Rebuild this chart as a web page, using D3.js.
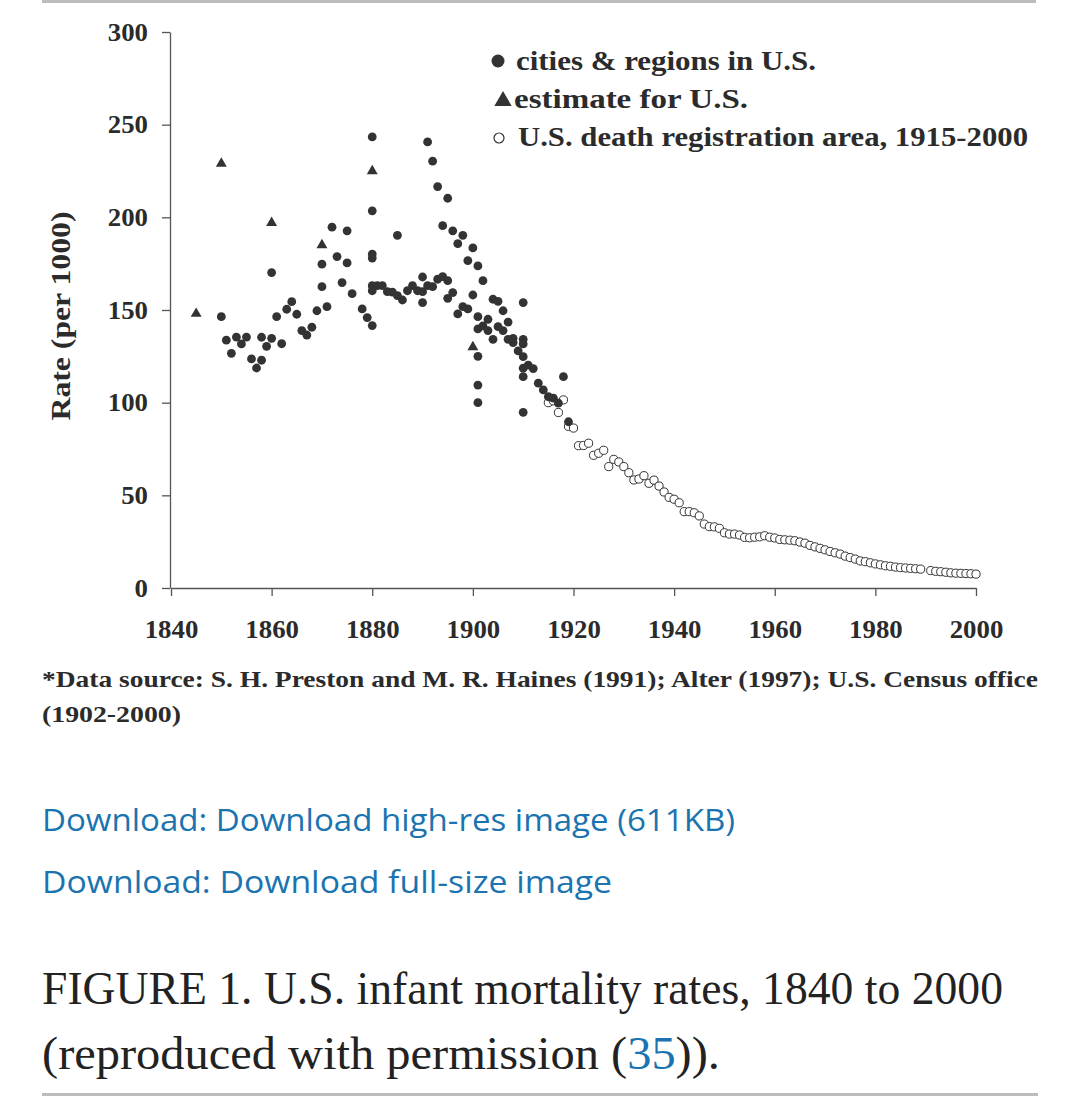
<!DOCTYPE html>
<html>
<head>
<meta charset="utf-8">
<script src="https://cdn.jsdelivr.net/npm/d3@7"></script>
<style>
  body { margin: 0; background: #fff; }
  svg { display: block; }
</style>
</head>
<body>
<svg width="1075" height="1103"></svg>
<script>
// values: [year, rate per 1000]
const cities = [
  [1850, 146.4], [1851, 133.7], [1852, 126.6], [1853, 135.4], [1854, 131.7], [1855, 135.4],
  [1856, 123.6], [1857, 118.7], [1858, 122.9], [1858, 135.3], [1859, 130.4], [1860, 134.7],
  [1860, 170.2], [1861, 146.4], [1862, 131.8], [1863, 150.4], [1864, 154.5], [1865, 147.7],
  [1866, 138.9], [1867, 136.5], [1868, 140.7], [1869, 149.6], [1870, 162.6], [1870, 174.7],
  [1871, 151.8], [1872, 194.7], [1873, 178.8], [1874, 164.8], [1875, 192.7], [1875, 175.4],
  [1876, 158.8], [1878, 150.6], [1879, 145.9], [1880, 141.6], [1880, 243.4], [1880, 203.5],
  [1880, 180.2], [1880, 178.0], [1880, 163.1], [1880, 160.4], [1881, 163.1], [1882, 163.1],
  [1883, 159.9], [1884, 159.6], [1885, 157.8], [1885, 190.3], [1886, 155.4], [1887, 160.4],
  [1888, 163.1], [1889, 160.4], [1890, 159.9], [1890, 167.8], [1890, 154.0], [1891, 163.1],
  [1891, 240.7], [1892, 162.6], [1892, 230.3], [1893, 166.6], [1893, 216.6], [1894, 168.0],
  [1894, 195.5], [1895, 165.8], [1895, 210.3], [1895, 156.3], [1896, 159.4], [1896, 192.7],
  [1897, 185.8], [1897, 147.9], [1898, 151.8], [1898, 190.3], [1899, 150.6], [1899, 176.6],
  [1900, 183.5], [1900, 158.1], [1901, 173.8], [1901, 146.4], [1901, 139.8], [1901, 125.0],
  [1901, 109.5], [1901, 100.0], [1902, 165.8], [1902, 141.4], [1903, 145.0], [1903, 138.9],
  [1904, 155.8], [1904, 134.2], [1905, 154.7], [1905, 141.0], [1906, 149.6], [1906, 138.9],
  [1907, 143.5], [1907, 134.2], [1908, 134.7], [1908, 132.4], [1909, 127.9], [1910, 154.0],
  [1910, 134.2], [1910, 131.7], [1910, 124.8], [1910, 118.6], [1910, 114.0], [1910, 94.8],
  [1911, 120.3], [1912, 118.4], [1913, 110.5], [1914, 106.9], [1915, 103.2], [1916, 102.4],
  [1917, 99.7], [1918, 114.0], [1919, 89.7]
];

const estimates = [
  [1845, 148], [1850, 229], [1860, 197], [1870, 185], [1880, 225], [1900, 130]
];

const registrationYears = [
  1915, 1916, 1917, 1918, 1919, 1920, 1921, 1922, 1923, 1924, 1925, 1926, 1927, 1928, 1929,
  1930, 1931, 1932, 1933, 1934, 1935, 1936, 1937, 1938, 1939, 1940, 1941, 1942, 1943, 1944,
  1945, 1946, 1947, 1948, 1949, 1950, 1951, 1952, 1953, 1954, 1955, 1956, 1957, 1958, 1959,
  1960, 1961, 1962, 1963, 1964, 1965, 1966, 1967, 1968, 1969, 1970, 1971, 1972, 1973, 1974,
  1975, 1976, 1977, 1978, 1979, 1980, 1981, 1982, 1983, 1984, 1985, 1986, 1987, 1988, 1989,
  1991, 1992, 1993, 1994, 1995, 1996, 1997, 1998, 1999, 2000
];
const registrationRates = [
  100.0, 101.0, 94.7, 101.5, 87.2, 86.3, 76.8, 76.9, 78.1, 71.6, 72.7, 74.3, 65.5, 69.4, 68.0,
  65.5, 62.2, 58.3, 58.8, 60.6, 56.5, 58.2, 55.0, 51.8, 48.9, 47.9, 46.0, 41.2, 41.2, 40.6,
  38.9, 34.5, 33.1, 33.0, 32.2, 29.8, 29.1, 29.1, 28.6, 27.3, 27.1, 27.4, 27.6, 28.2, 27.4,
  27.0, 26.2, 26.0, 25.8, 25.5, 24.8, 24.2, 23.0, 22.2, 21.4, 20.6, 19.7, 19.0, 18.3, 17.2,
  16.4, 15.6, 14.6, 14.2, 13.6, 13.0, 12.5, 12.0, 11.7, 11.3, 11.0, 10.8, 10.6, 10.4, 10.2,
  9.4, 9.0, 8.8, 8.5, 8.2, 8.0, 7.9, 7.8, 7.7, 7.5
];

const xTicks = [1840, 1860, 1880, 1900, 1920, 1940, 1960, 1980, 2000];
const yTicks = [0, 50, 100, 150, 200, 250, 300];
const legendLabels = ["cities & regions in U.S.", "estimate for U.S.", "U.S. death registration area, 1915-2000"];

const ink = "#2b2b2b";
const serif = "'Liberation Serif', 'Times New Roman', serif";
const svg = d3.select("svg");

const x = d3.scaleLinear().domain([1840, 2000]).range([171, 976]);
const y = d3.scaleLinear().domain([0, 300]).range([588, 32]);

// page rules above and below the figure
svg.append("rect").attr("x", 42).attr("y", 0).attr("width", 994).attr("height", 3).attr("fill", "#bdbdbd");
svg.append("rect").attr("x", 42).attr("y", 1093).attr("width", 996).attr("height", 3).attr("fill", "#bdbdbd");

// axes
const yAxis = svg.append("g")
  .attr("transform", "translate(170,0)")
  .call(d3.axisLeft(y).tickValues(yTicks).tickSize(8).tickSizeOuter(0).tickPadding(14));
const xAxis = svg.append("g")
  .attr("transform", "translate(0,588)")
  .call(d3.axisBottom(x).tickValues(xTicks).tickSize(8).tickSizeOuter(0).tickPadding(24).tickFormat(d3.format("d")));

[xAxis, yAxis].forEach(g => {
  g.selectAll("path, line").attr("stroke", "#555").attr("stroke-width", 1.3);
  g.selectAll("text")
    .attr("fill", ink)
    .style("font-family", serif)
    .style("font-weight", "bold")
    .style("font-size", "25px")
    .attr("textLength", function () { return this.textContent.length * 13.4; })
    .attr("lengthAdjust", "spacingAndGlyphs");
});

// y title
svg.append("text")
  .attr("transform", "translate(70,316) rotate(-90)")
  .attr("text-anchor", "middle")
  .attr("fill", ink)
  .style("font-family", serif).style("font-weight", "bold").style("font-size", "27px")
  .attr("textLength", 209).attr("lengthAdjust", "spacingAndGlyphs")
  .text("Rate (per 1000)");

// open circles: death registration area
const regData = registrationYears.map((yr, i) => [yr, registrationRates[i]]);
svg.append("g").selectAll("circle")
  .data(regData).enter()
  .append("circle")
  .attr("cx", d => x(d[0]))
  .attr("cy", d => y(d[1]))
  .attr("r", 4.1)
  .attr("fill", "#fff")
  .attr("stroke", "#333")
  .attr("stroke-width", 1);

// filled circles: cities & regions
svg.append("g").selectAll("circle")
  .data(cities).enter()
  .append("circle")
  .attr("cx", d => x(d[0]))
  .attr("cy", d => y(d[1]))
  .attr("r", 4.4)
  .attr("fill", "#333");

// triangles: estimates
const tri = d3.symbol().type(d3.symbolTriangle).size(52);
svg.append("g").selectAll("path")
  .data(estimates).enter()
  .append("path")
  .attr("d", tri)
  .attr("transform", d => "translate(" + x(d[0]) + "," + y(d[1]) + ")")
  .attr("fill", "#333");

// legend
const legend = svg.append("g");
legend.append("circle").attr("cx", 498).attr("cy", 61).attr("r", 6.5).attr("fill", "#333");
legend.append("path").attr("d", d3.symbol().type(d3.symbolTriangle).size(130))
  .attr("transform", "translate(503,101)").attr("fill", "#333");
legend.append("circle").attr("cx", 499).attr("cy", 138).attr("r", 5).attr("fill", "#fff")
  .attr("stroke", "#333").attr("stroke-width", 1.2);

const legendX = [516, 514, 518];
const legendW = [300, 234, 510];
legend.selectAll("text.lab")
  .data(legendLabels).enter()
  .append("text")
  .attr("class", "lab")
  .attr("x", (d, i) => legendX[i])
  .attr("y", (d, i) => 70 + i * 38)
  .attr("fill", ink)
  .style("font-family", serif).style("font-weight", "bold").style("font-size", "28px")
  .attr("textLength", (d, i) => legendW[i]).attr("lengthAdjust", "spacingAndGlyphs")
  .text(d => d);

// source note
const note = svg.append("g")
  .attr("fill", ink)
  .style("font-family", serif).style("font-weight", "bold").style("font-size", "24px");
note.append("text").attr("x", 42).attr("y", 687)
  .attr("textLength", 996).attr("lengthAdjust", "spacingAndGlyphs")
  .text("*Data source: S. H. Preston and M. R. Haines (1991); Alter (1997); U.S. Census office");
note.append("text").attr("x", 42).attr("y", 722)
  .attr("textLength", 139).attr("lengthAdjust", "spacingAndGlyphs")
  .text("(1902-2000)");

// download links
const link = "#1b74b0";
const links = svg.append("g")
  .attr("fill", link)
  .style("font-family", "'Open Sans', 'Noto Sans', sans-serif").style("font-size", "31px");
links.append("text").attr("x", 42).attr("y", 831)
  .attr("textLength", 693).attr("lengthAdjust", "spacingAndGlyphs")
  .text("Download: Download high-res image (611KB)");
links.append("text").attr("x", 42).attr("y", 893)
  .attr("textLength", 570).attr("lengthAdjust", "spacingAndGlyphs")
  .text("Download: Download full-size image");

// caption
const cap = svg.append("g")
  .attr("fill", "#222")
  .style("font-family", serif).style("font-size", "47px");
cap.append("text").attr("x", 42).attr("y", 1004)
  .attr("textLength", 961).attr("lengthAdjust", "spacingAndGlyphs")
  .text("FIGURE 1. U.S. infant mortality rates, 1840 to 2000");
const cap2 = cap.append("text").attr("x", 42).attr("y", 1069)
  .attr("textLength", 678).attr("lengthAdjust", "spacingAndGlyphs");
cap2.append("tspan").text("(reproduced with permission (");
cap2.append("tspan").attr("fill", link).text("35");
cap2.append("tspan").text(")).");
</script>
</body>
</html>
